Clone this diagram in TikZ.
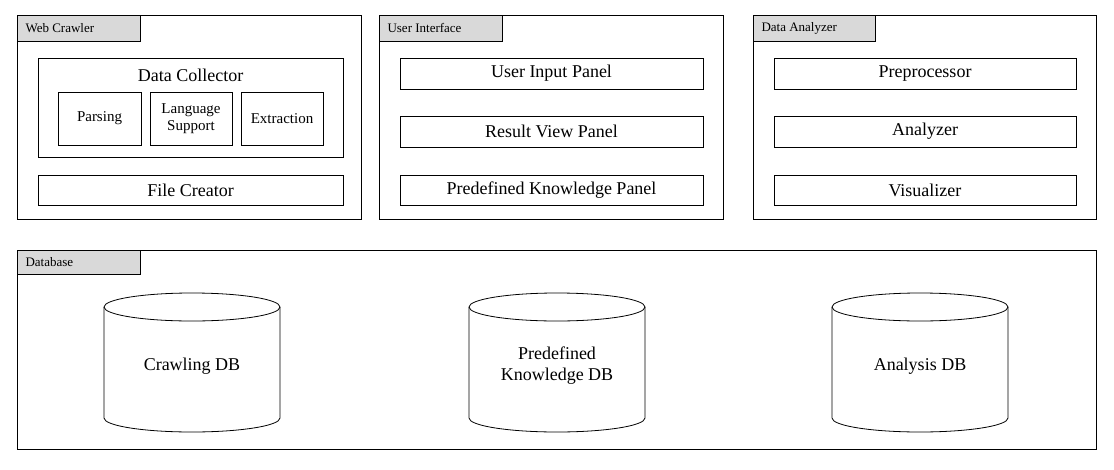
\documentclass[tikz,border=0pt]{standalone}
\usepackage{fontspec}
\setmainfont{Liberation Serif}
\begin{document}
\begin{tikzpicture}[x=1pt,y=-1pt,
 box/.style={draw,line width=0.8pt},
 tab/.style={draw,line width=0.8pt,fill=gray!30},
 tabt/.style={font=\fontsize{13}{14}\selectfont,anchor=west},
 pt/.style={font=\fontsize{18}{21}\selectfont},
 st/.style={font=\fontsize{15}{17}\selectfont,align=center}]
\useasboundingbox (0,0) rectangle (1114,469);
% Web crawler
\draw[box] (17,15) rectangle (361,219);
\draw[tab] (17,15) rectangle (140,41); \node[tabt] (t1) at (22,28) {Web Crawler};
\draw[box] (38,58) rectangle (343,157); \node[pt] (dc) at (190.5,75) {Data Collector};
\draw[box] (58,92) rectangle (141,145); \node[st] (p) at (99.5,118.5) {Parsing};
\draw[box] (150,92) rectangle (232,145); \node[st] (ls) at (191,118.5) {Language\\Support};
\draw[box] (241,92) rectangle (323,145); \node[st] (ex) at (282,118.5) {Extraction};
\draw[box] (38,175) rectangle (343,205); \node[pt] (fc) at (190.5,190) {File Creator};
% UI
\draw[box] (379,15) rectangle (723,219);
\draw[tab] (379,15) rectangle (502,41); \node[tabt] (t2) at (384,28) {User Interface};
\draw[box] (400,58) rectangle (703,89); \node[pt] (u1) at (551.5,73.5) {User Input Panel};
\draw[box] (400,116) rectangle (703,147); \node[pt] (u2) at (551.5,131.5) {Result View Panel};
\draw[box] (400,175) rectangle (703,205); \node[pt] (u3) at (551.5,190) {Predefined Knowledge Panel};
% DA
\draw[box] (753,15) rectangle (1096,219);
\draw[tab] (753,15) rectangle (875,41); \node[tabt] (t3) at (758,28) {Data Analyzer};
\draw[box] (774,58) rectangle (1076,89); \node[pt] (a1) at (925,73.5) {Preprocessor};
\draw[box] (774,116) rectangle (1076,147); \node[pt] (a2) at (925,131.5) {Analyzer};
\draw[box] (774,175) rectangle (1076,205); \node[pt] (a3) at (925,190) {Visualizer};
% DB
\draw[box] (17,250) rectangle (1096,449);
\draw[tab] (17,250) rectangle (140,274); \node[tabt] (t4) at (22,262) {Database};
\foreach \cx in {192,557,920}{
 \draw[line width=0.8pt] (\cx-88,307) -- (\cx-88,418) arc[start angle=180,end angle=0,x radius=88,y radius=14] -- (\cx+88,307);
 \draw[line width=0.8pt] (\cx,307) ellipse[x radius=88,y radius=14];
}
\node[pt] (d1) at (192,366) {Crawling DB};
\node[pt,align=center] (d2) at (557,366) {Predefined\\Knowledge DB};
\node[pt] (d3) at (920,366) {Analysis DB};
\end{tikzpicture}
\end{document}
